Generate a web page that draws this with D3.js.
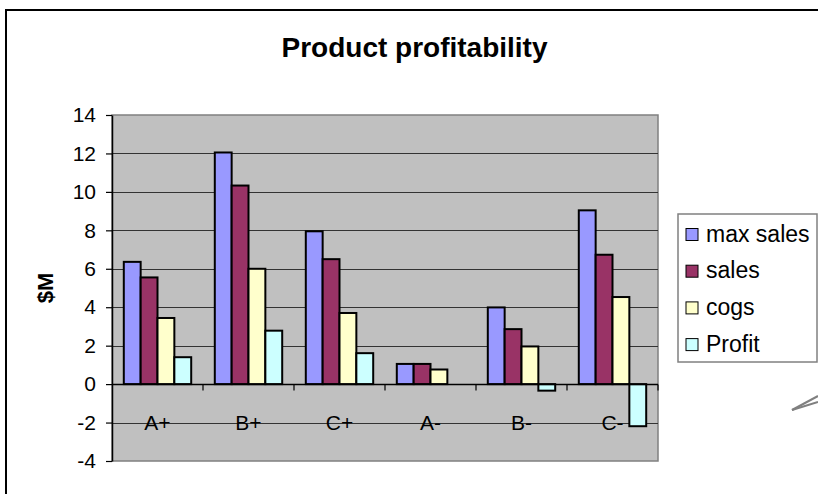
<!DOCTYPE html>
<html>
<head>
<meta charset="utf-8">
<title>Product profitability</title>
<style>
body {
  margin: 0;
  background: #fff;
}
svg text {
  font-family: "Liberation Sans", Arial, sans-serif;
  fill: #000;
}
.grid line {
  stroke: #333;
  stroke-width: 1;
}
.bar {
  stroke: #000;
  stroke-width: 2px;
}
</style>
</head>
<body>
<svg id="chart" width="818" height="494"></svg>
<script src="https://d3js.org/d3.v7.min.js"></script>
<script>

// --- data ---
let categories = ["A+", "B+", "C+", "A-", "B-", "C-"];
let seriesNames = ["max sales", "sales", "cogs", "Profit"];
let maxSales = [6.36, 12.05, 7.95, 1.05, 3.99, 9.04];
let sales    = [5.55, 10.33, 6.5, 1.05, 2.86, 6.73];
let cogs     = [3.44, 6.0, 3.7, 0.76, 1.96, 4.53];
let profit   = [1.4, 2.78, 1.61, 0, -0.34, -2.19];
let yTicks = [-4, -2, 0, 2, 4, 6, 8, 10, 12, 14];
let colors = ["#9999ff", "#993366", "#ffffcc", "#ccffff"];

let seriesValues = [maxSales, sales, cogs, profit];

// plot area in page pixels
let plot = {left: 112, right: 658, top: 115, bottom: 461};

let svg = d3.select("#chart");

// outer chart frame (runs past the right/bottom edge of the picture)
svg.append("rect")
    .attr("x", 6)
    .attr("y", 10)
    .attr("width", 830)
    .attr("height", 500)
    .attr("fill", "#fff")
    .attr("stroke", "#000")
    .attr("stroke-width", 2);

let x = d3.scaleBand()
    .domain(categories)
    .range([plot.left, plot.right]);

let xInner = d3.scaleBand()
    .domain(seriesNames)
    .range([11.8, x.bandwidth() - 11.8]);

let y = d3.scaleLinear()
    .domain([yTicks[0], yTicks[yTicks.length - 1]])
    .range([plot.bottom, plot.top]);

// plot background
svg.append("rect")
    .attr("x", plot.left)
    .attr("y", plot.top)
    .attr("width", plot.right - plot.left)
    .attr("height", plot.bottom - plot.top)
    .attr("fill", "#c0c0c0")
    .attr("stroke", "#808080")
    .attr("stroke-width", 1.5);

// horizontal gridlines
svg.append("g")
    .attr("class", "grid")
  .selectAll("line")
  .data(yTicks.slice(1, -1))
  .enter().append("line")
    .attr("x1", plot.left)
    .attr("x2", plot.right)
    .attr("y1", function(d) { return Math.round(y(d)) + 0.5; })
    .attr("y2", function(d) { return Math.round(y(d)) + 0.5; });

// bars
let groups = svg.append("g")
  .selectAll("g")
  .data(categories)
  .enter().append("g")
    .attr("transform", function(d) { return "translate(" + x(d) + ",0)"; });

groups.selectAll("rect")
  .data(function(d, i) {
    return seriesNames.map(function(s, j) {
      return {series: s, value: seriesValues[j][i], color: colors[j]};
    });
  })
  .enter().filter(function(d) { return d.value !== 0; }).append("rect")
    .attr("class", "bar")
    .attr("x", function(d) { return xInner(d.series); })
    .attr("width", xInner.bandwidth())
    .attr("y", function(d) { return y(Math.max(0, d.value)); })
    .attr("height", function(d) { return Math.abs(y(d.value) - y(0)); })
    .attr("fill", function(d) { return d.color; });

// y axis
let yAxis = svg.append("g")
    .attr("transform", "translate(" + plot.left + ",0)")
    .call(d3.axisLeft(y)
      .tickValues(yTicks)
      .tickFormat(function(d) { return String(d); })
      .tickSize(6).tickPadding(10).tickSizeOuter(0));

yAxis.select(".domain").attr("stroke", "#000").attr("stroke-width", 1.5);
yAxis.selectAll(".tick line").attr("stroke", "#000").attr("stroke-width", 1.2);
yAxis.selectAll(".tick text")
    .attr("font-size", 21)
    .style("font-family", "'Liberation Sans', Arial, sans-serif");

// x axis along zero
let zeroY = Math.round(y(0)) + 0.5;
svg.append("line")
    .attr("x1", plot.left)
    .attr("x2", plot.right)
    .attr("y1", zeroY)
    .attr("y2", zeroY)
    .attr("stroke", "#000")
    .attr("stroke-width", 1.5);

svg.append("g")
  .selectAll("line")
  .data(categories.slice(1).concat(["end"]))
  .enter().append("line")
    .attr("x1", function(d) { return d == "end" ? plot.right : x(d); })
    .attr("x2", function(d) { return d == "end" ? plot.right : x(d); })
    .attr("y1", zeroY)
    .attr("y2", zeroY + 6)
    .attr("stroke", "#000")
    .attr("stroke-width", 1.2);

svg.append("g")
  .selectAll("text")
  .data(categories)
  .enter().append("text")
    .attr("x", function(d) { return x(d) + x.bandwidth() / 2; })
    .attr("y", y(-2) + 7)
    .attr("text-anchor", "middle")
    .attr("font-size", 21)
    .text(function(d) { return d; });

// title
svg.append("text")
    .attr("x", 414.5)
    .attr("y", 57)
    .attr("text-anchor", "middle")
    .attr("font-size", 28)
    .attr("font-weight", "bold")
    .text("Product profitability");

// y axis title
svg.append("text")
    .attr("transform", "translate(53,288) rotate(-90)")
    .attr("text-anchor", "middle")
    .attr("font-size", 22)
    .attr("font-weight", "bold")
    .text("$M");

// legend
let legend = svg.append("g")
    .attr("transform", "translate(678,214)");

legend.append("rect")
    .attr("width", 139)
    .attr("height", 148)
    .attr("fill", "#fff")
    .attr("stroke", "#808080")
    .attr("stroke-width", 1.5);

let items = legend.selectAll(".item")
  .data(seriesNames)
  .enter().append("g")
    .attr("class", "item")
    .attr("transform", function(d, i) { return "translate(0," + (20.5 + i * 36.7) + ")"; });

items.append("rect")
    .attr("x", 8)
    .attr("y", -6)
    .attr("width", 12)
    .attr("height", 12)
    .attr("fill", function(d, i) { return colors[i]; })
    .attr("stroke", "#000")
    .attr("stroke-width", 1);

items.append("text")
    .attr("x", 28)
    .attr("y", 7)
    .attr("font-size", 23)
    .text(function(d) { return d; });

// stray grey marks at bottom right
svg.append("g")
  .selectAll("line")
  .data([396, 402])
  .enter().append("line")
    .attr("x1", 792)
    .attr("y1", 410)
    .attr("x2", 818)
    .attr("y2", function(d) { return d; })
    .attr("stroke", "#808080")
    .attr("stroke-width", 2);

</script>
</body>
</html>
